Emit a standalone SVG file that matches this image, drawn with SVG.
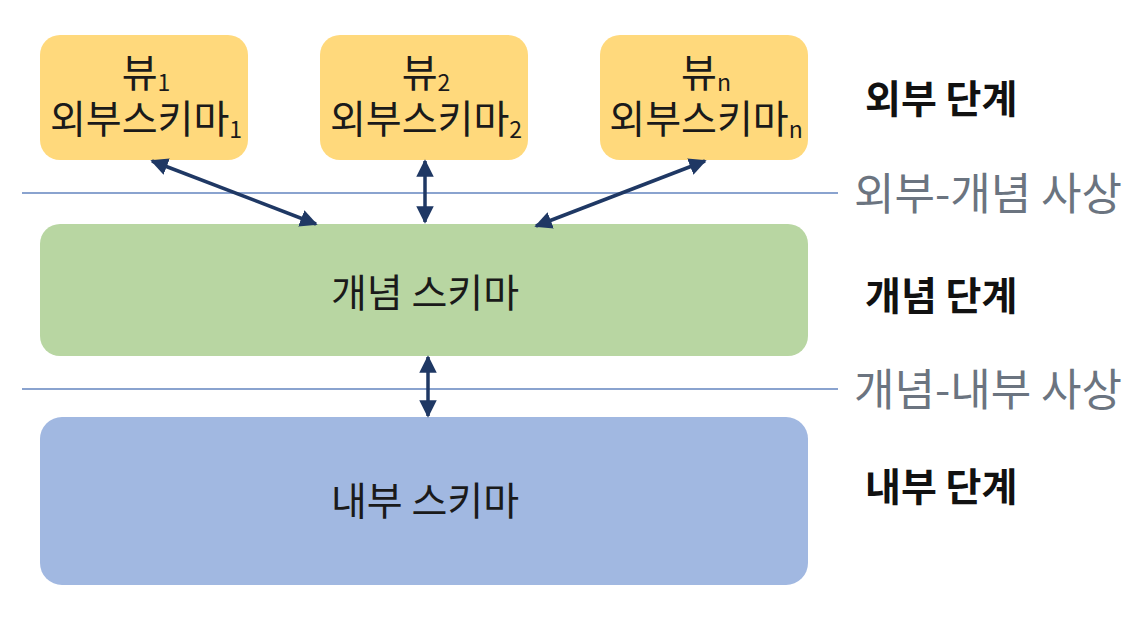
<svg xmlns="http://www.w3.org/2000/svg" width="1142" height="617" viewBox="0 0 1142 617">
<defs>
<style>
.t{font-family:"Noto Sans CJK KR","Noto Sans",sans-serif;fill:#1a1a1a;text-anchor:middle}
.bx{font-size:39px}
.sub{font-size:23px}
.lv{font-family:"Noto Sans CJK KR",sans-serif;font-size:39px;font-weight:bold;fill:#111}
.mp{font-family:"Noto Sans CJK KR",sans-serif;font-size:44px;fill:#6b7480}
.ext{fill:#FFD97C}
.sep{stroke:#8AA3CF;stroke-width:2}
.ar{stroke:#1F3864;stroke-width:3.5;fill:none;marker-start:url(#ah);marker-end:url(#ah)}
</style>
<marker id="ah" viewBox="0 0 10 10" refX="9" refY="5" markerWidth="5" markerHeight="5" orient="auto-start-reverse" markerUnits="strokeWidth">
<path d="M0,0 L10,5 L0,10 z" fill="#1F3864"/>
</marker>
</defs>
<rect width="1142" height="617" fill="#fff"/>
<g id="separators">
<line class="sep" x1="22" y1="193" x2="838" y2="193"/>
<line class="sep" x1="22" y1="389" x2="838" y2="389"/>
</g>
<g id="view1">
<rect class="ext" x="40" y="35" width="208" height="125" rx="20"/>
<text class="t bx" x="146" y="87">뷰<tspan class="sub" dy="4">1</tspan></text>
<text class="t bx" x="146" y="133">외부스키마<tspan class="sub" dy="5">1</tspan></text>
</g>
<g id="view2">
<rect class="ext" x="320" y="35" width="208" height="125" rx="20"/>
<text class="t bx" x="426" y="87">뷰<tspan class="sub" dy="4">2</tspan></text>
<text class="t bx" x="426" y="133">외부스키마<tspan class="sub" dy="5">2</tspan></text>
</g>
<g id="viewn">
<rect class="ext" x="600" y="35" width="208" height="125" rx="20"/>
<text class="t bx" x="706" y="87">뷰<tspan class="sub" dy="4">n</tspan></text>
<text class="t bx" x="706" y="133">외부스키마<tspan class="sub" dy="5">n</tspan></text>
</g>
<g id="conceptual">
<rect x="40" y="224" width="768" height="132" rx="20" fill="#B8D6A2"/>
<text class="t bx" x="425" y="307">개념 스키마</text>
</g>
<g id="internal">
<rect x="40" y="417" width="768" height="168" rx="22" fill="#A1B8E1"/>
<text class="t bx" x="425" y="515">내부 스키마</text>
</g>
<g id="connectors">
<line class="ar" x1="152" y1="161" x2="316" y2="224"/>
<line class="ar" x1="425" y1="161" x2="425" y2="222"/>
<line class="ar" x1="705" y1="161" x2="536" y2="226"/>
<line class="ar" x1="428" y1="357" x2="428" y2="416"/>
</g>
<g id="labels">
<text class="lv" x="865" y="113">외부 단계</text>
<text class="mp" x="854" y="210">외부-개념 사상</text>
<text class="lv" x="865" y="310">개념 단계</text>
<text class="mp" x="854" y="406">개념-내부 사상</text>
<text class="lv" x="865" y="501">내부 단계</text>
</g>
</svg>
